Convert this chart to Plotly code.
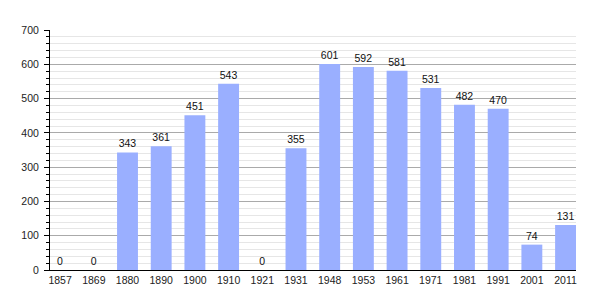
import plotly.graph_objects as go

years = ["1857", "1869", "1880", "1890", "1900", "1910", "1921", "1931",
         "1948", "1953", "1961", "1971", "1981", "1991", "2001", "2011"]
population = [0, 0, 343, 361, 451, 543, 0, 355, 601, 592, 581, 531, 482, 470, 74, 131]

xs = list(range(len(years)))
FONT = "Liberation Sans, Arial, sans-serif"

fig = go.Figure(go.Bar(
    x=xs, y=population,
    width=0.62,
    marker=dict(color="#9aafff", line=dict(width=0)),
    text=[str(v) for v in population],
    textposition="outside",
    textfont=dict(family=FONT, size=10.5, color="#111"),
    outsidetextfont=dict(family=FONT, size=10.5, color="#111"),
    cliponaxis=False,
))

fig.update_layout(
    width=605, height=300,
    margin=dict(l=50, r=29, t=30, b=30),
    paper_bgcolor="white", plot_bgcolor="white",
    font=dict(family=FONT, size=10.5, color="#222"),
    showlegend=False,
    uniformtext=dict(mode=False),
)
fig.update_xaxes(
    tickmode="array", tickvals=xs, ticktext=years,
    range=[-0.3, 15.31],
    showline=True, linecolor="black", linewidth=1,
    ticks="", showgrid=False, zeroline=False,
    ticklabelstandoff=0,
)
fig.update_yaxes(
    range=[0, 700], dtick=100,
    showline=True, linecolor="black", linewidth=1,
    ticks="outside", ticklen=5, tickcolor="black",
    showgrid=True, gridcolor="#aaaaaa", gridwidth=1,
    zeroline=False,
    minor=dict(dtick=20, ticks="outside", ticklen=3, tickcolor="black",
               showgrid=True, gridcolor="#e6e6e6", gridwidth=1),
    ticklabelstandoff=3,
)

fig.write_html("out.html")
